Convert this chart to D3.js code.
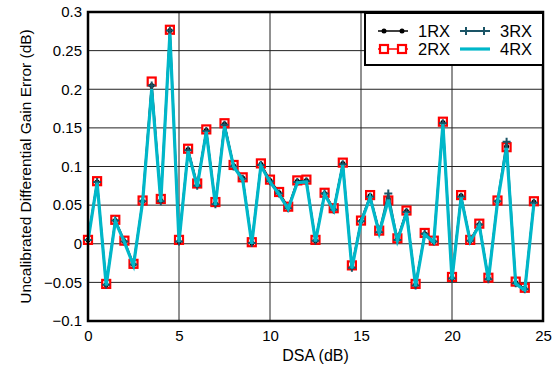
<!DOCTYPE html>
<html>
<head>
<meta charset="utf-8">
<script src="https://cdn.jsdelivr.net/npm/d3@7"></script>
<style>
  body { margin: 0; background: #fff; }
  svg { display: block; font-family: "Liberation Sans", Arial, sans-serif; }
</style>
</head>
<body>
<script>
// DSA steps, 0 to 24.5 dB
var dsa = d3.range(0, 25, 0.5);

var rx2 = [0.005, 0.081, -0.052, 0.031, 0.004, -0.026, 0.056, 0.210, 0.058, 0.277,
           0.005, 0.123, 0.078, 0.148, 0.054, 0.156, 0.102, 0.086, 0.002, 0.104,
           0.083, 0.067, 0.048, 0.082, 0.083, 0.005, 0.066, 0.046, 0.105, -0.028,
           0.030, 0.063, 0.017, 0.056, 0.007, 0.043, -0.052, 0.014, 0.004, 0.158,
           -0.043, 0.063, 0.005, 0.026, -0.044, 0.056, 0.125, -0.049, -0.057, 0.055];
var rx1 = [0.005, 0.080, -0.053, 0.030, 0.003, -0.027, 0.055, 0.205, 0.056, 0.276,
           0.003, 0.122, 0.076, 0.147, 0.052, 0.155, 0.101, 0.085, 0.001, 0.103,
           0.082, 0.066, 0.047, 0.081, 0.082, 0.004, 0.065, 0.045, 0.104, -0.030,
           0.029, 0.062, 0.016, 0.058, 0.006, 0.042, -0.053, 0.013, 0.003, 0.157,
           -0.044, 0.062, 0.004, 0.025, -0.045, 0.055, 0.126, -0.050, -0.058, 0.054];
var rx3 = [0.005, 0.080, -0.053, 0.030, 0.003, -0.027, 0.055, 0.205, 0.055, 0.276,
           0.003, 0.121, 0.075, 0.146, 0.051, 0.154, 0.100, 0.084, 0.001, 0.102,
           0.081, 0.065, 0.046, 0.080, 0.081, 0.004, 0.065, 0.044, 0.103, -0.031,
           0.029, 0.061, 0.015, 0.065, 0.005, 0.041, -0.054, 0.013, 0.003, 0.156,
           -0.045, 0.061, 0.004, 0.025, -0.046, 0.055, 0.132, -0.051, -0.059, 0.053];
var rx4 = [0.004, 0.079, -0.054, 0.029, 0.002, -0.028, 0.054, 0.200, 0.054, 0.272,
           0.002, 0.120, 0.074, 0.145, 0.050, 0.152, 0.100, 0.083, 0.000, 0.101,
           0.080, 0.064, 0.045, 0.079, 0.080, 0.003, 0.064, 0.043, 0.102, -0.032,
           0.028, 0.060, 0.014, 0.057, 0.004, 0.040, -0.055, 0.012, 0.002, 0.155,
           -0.046, 0.060, 0.003, 0.024, -0.047, 0.054, 0.124, -0.052, -0.060, 0.052];

var xTicks = [0, 5, 10, 15, 20, 25];
var yTicks = [-0.1, -0.05, 0, 0.05, 0.1, 0.15, 0.2, 0.25, 0.3];

var W = 557, H = 369;
var margin = {top: 12, right: 14, bottom: 48, left: 88};
var width = W - margin.left - margin.right,
    height = H - margin.top - margin.bottom;

var svg = d3.select("body").append("svg")
    .attr("width", W)
    .attr("height", H);

var g = svg.append("g").attr("transform", "translate(" + margin.left + "," + margin.top + ")");

var xScale = d3.scaleLinear().domain([0, 25]).range([0, width]);
var yScale = d3.scaleLinear().domain([-0.1, 0.3]).range([height, 0]);

// grid
g.append("g").selectAll("line")
    .data(yTicks.slice(1, -1))
    .enter().append("line")
    .attr("x1", 0).attr("x2", width)
    .attr("y1", function(d){ return yScale(d); })
    .attr("y2", function(d){ return yScale(d); })
    .attr("stroke", "#222").attr("stroke-width", 1);
g.append("g").selectAll("line")
    .data(xTicks.slice(1, -1))
    .enter().append("line")
    .attr("y1", 0).attr("y2", height)
    .attr("x1", function(d){ return xScale(d); })
    .attr("x2", function(d){ return xScale(d); })
    .attr("stroke", "#222").attr("stroke-width", 1);

// axes (labels only, frame drawn as rect)
var xAxis = g.append("g").attr("transform", "translate(0," + height + ")")
    .call(d3.axisBottom(xScale).tickValues(xTicks).tickSize(0).tickPadding(9).tickFormat(d3.format("d")));
var yAxis = g.append("g")
    .call(d3.axisLeft(yScale).tickValues(yTicks).tickSize(0).tickPadding(6).tickFormat(function(d){ return d3.format("")(+d.toFixed(2)); }));
[xAxis, yAxis].forEach(function(a){
    a.select(".domain").remove();
    a.selectAll("text").attr("font-size", 15).attr("fill", "#000")
        .style("font-family", "'Liberation Sans', Arial, sans-serif");
});

var line = d3.line()
    .x(function(d, i){ return xScale(dsa[i]); })
    .y(function(d){ return yScale(d); });

// 2RX - red squares
g.append("path").datum(rx2).attr("d", line)
    .attr("fill", "none").attr("stroke", "#ff0000").attr("stroke-width", 1.5);
g.append("g").selectAll("rect").data(rx2).enter().append("rect")
    .attr("x", function(d, i){ return xScale(dsa[i]) - 4; })
    .attr("y", function(d){ return yScale(d) - 4; })
    .attr("width", 8).attr("height", 8)
    .attr("fill", "#fff").attr("stroke", "#ff0000").attr("stroke-width", 2.2);

// 1RX - black dots
g.append("path").datum(rx1).attr("d", line)
    .attr("fill", "none").attr("stroke", "#000").attr("stroke-width", 1.5);
g.append("g").selectAll("circle").data(rx1).enter().append("circle")
    .attr("cx", function(d, i){ return xScale(dsa[i]); })
    .attr("cy", function(d){ return yScale(d); })
    .attr("r", 2.5).attr("fill", "#000");

// 3RX - dark teal plus
g.append("path").datum(rx3).attr("d", line)
    .attr("fill", "none").attr("stroke", "#1a5466").attr("stroke-width", 2);
g.append("g").selectAll("path").data(rx3).enter().append("path")
    .attr("d", function(d, i){
        var x = xScale(dsa[i]), y = yScale(d);
        return "M" + (x - 4) + "," + y + "H" + (x + 4) + "M" + x + "," + (y - 4) + "V" + (y + 4);
    })
    .attr("stroke", "#1a5466").attr("stroke-width", 2);

// 4RX - cyan
g.append("path").datum(rx4).attr("d", line)
    .attr("fill", "none").attr("stroke", "#00b7c9").attr("stroke-width", 3.2);

// frame
g.append("rect").attr("width", width).attr("height", height)
    .attr("fill", "none").attr("stroke", "#000").attr("stroke-width", 2.5);

// legend
var lg = g.append("g").attr("transform", "translate(" + (width - 178) + ",1)");
lg.append("rect").attr("width", 178).attr("height", 52)
    .attr("fill", "#fff").attr("stroke", "#000").attr("stroke-width", 2);
var names = ["1RX", "2RX", "3RX", "4RX"];
var items = lg.selectAll(".item").data(names).enter().append("g")
    .attr("class", "item")
    .attr("transform", function(d, i){
        return "translate(" + (13 + Math.floor(i / 2) * 82) + "," + (18 + (i % 2) * 18) + ")";
    });
items.append("text").attr("x", 40).attr("y", 6).attr("font-size", 16.5).text(function(d){ return d; });

var it1 = items.filter(function(d){ return d == "1RX"; });
it1.append("line").attr("x1", 0).attr("x2", 30).attr("stroke", "#000").attr("stroke-width", 1.5);
it1.selectAll("circle").data([6, 24]).enter().append("circle").attr("cx", function(d){ return d; }).attr("r", 2.5);

var it2 = items.filter(function(d){ return d == "2RX"; });
it2.append("line").attr("x1", 0).attr("x2", 30).attr("stroke", "#ff0000").attr("stroke-width", 1.5);
it2.selectAll("rect").data([6, 24]).enter().append("rect")
    .attr("x", function(d){ return d - 4; }).attr("y", -4).attr("width", 8).attr("height", 8)
    .attr("fill", "#fff").attr("stroke", "#ff0000").attr("stroke-width", 2.2);

var it3 = items.filter(function(d){ return d == "3RX"; });
it3.append("line").attr("x1", 0).attr("x2", 30).attr("stroke", "#1a5466").attr("stroke-width", 2);
it3.selectAll("path").data([6, 24]).enter().append("path")
    .attr("d", function(d){ return "M" + d + ",-4V4"; })
    .attr("stroke", "#1a5466").attr("stroke-width", 2);

var it4 = items.filter(function(d){ return d == "4RX"; });
it4.append("line").attr("x1", 0).attr("x2", 30).attr("stroke", "#00b7c9").attr("stroke-width", 3.2);

// axis titles
svg.append("text")
    .attr("x", margin.left + width / 2).attr("y", 361)
    .attr("text-anchor", "middle").attr("font-size", 16)
    .text("DSA (dB)");
svg.append("text")
    .attr("transform", "translate(31," + (margin.top + height / 2) + ") rotate(-90)")
    .attr("text-anchor", "middle").attr("font-size", 15.5)
    .text("Uncalibrated Differential Gain Error (dB)");
</script>
</body>
</html>
